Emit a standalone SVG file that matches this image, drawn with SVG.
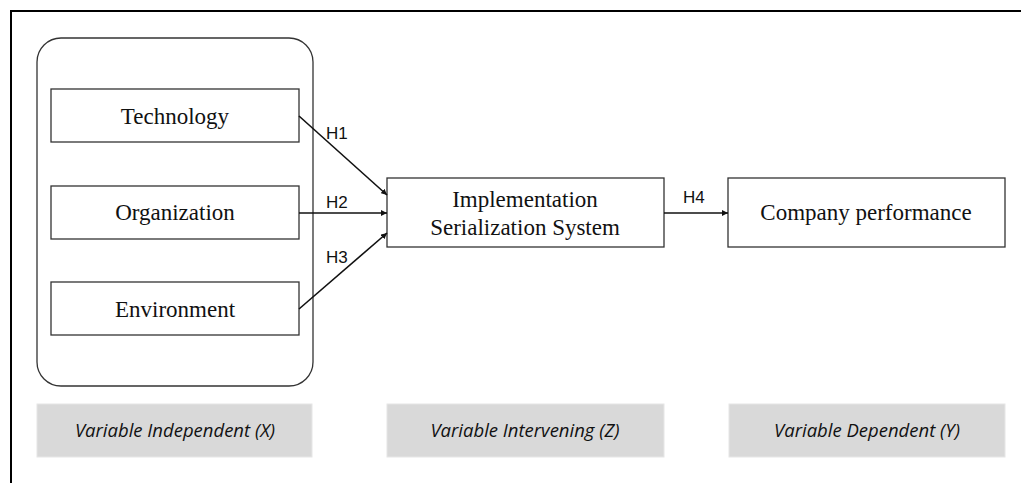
<svg xmlns="http://www.w3.org/2000/svg" width="1021" height="483" viewBox="0 0 1021 483">
<style>
.box{fill:#fff;stroke:#333;stroke-width:1.3}
.t{font-family:"Liberation Serif",serif;font-size:23px;fill:#111;text-anchor:middle}
.h{font-family:"Liberation Sans",sans-serif;font-size:17px;fill:#111}
.g{fill:#d9d9d9;stroke:#e6e6e6;stroke-width:1}
.gt{font-family:"Open Sans","Liberation Sans",sans-serif;font-style:italic;font-size:18.5px;fill:#111;text-anchor:middle}
.c{stroke:#111;stroke-width:1.6;fill:none;marker-end:url(#a)}
</style>
<defs>
<marker id="a" viewBox="0 0 10 10" refX="10" refY="5" markerWidth="6" markerHeight="6" markerUnits="userSpaceOnUse" orient="auto"><path d="M0,0 L10,5 L0,10 z" fill="#111"/></marker>
</defs>
<rect x="11" y="11" width="1030" height="500" fill="#fff" stroke="#000" stroke-width="2"/>
<rect id="groupX" x="37" y="38" width="276" height="348" rx="24" ry="24" fill="none" stroke="#333" stroke-width="1.3"/>
<g id="technology"><rect class="box" x="51" y="89" width="248" height="53"/><text class="t" x="175" y="124">Technology</text></g>
<g id="organization"><rect class="box" x="51" y="186" width="248" height="53"/><text class="t" x="175" y="220">Organization</text></g>
<g id="environment"><rect class="box" x="51" y="282" width="248" height="53"/><text class="t" x="175" y="317">Environment</text></g>
<g id="implementation"><rect class="box" x="387" y="178" width="277" height="69"/><text class="t" x="525" y="207">Implementation</text><text class="t" x="525" y="235">Serialization System</text></g>
<g id="company"><rect class="box" x="728" y="178" width="277" height="69"/><text class="t" x="866" y="220">Company performance</text></g>
<g id="connectors">
<path class="c" d="M299,116 L387,195"/>
<path class="c" d="M299,213 L387,213"/>
<path class="c" d="M299,309 L387,233"/>
<path class="c" d="M664,213 L728,213"/>
<text class="h" x="326" y="139">H1</text>
<text class="h" x="326" y="208">H2</text>
<text class="h" x="326" y="263">H3</text>
<text class="h" x="683" y="203">H4</text>
</g>
<g id="labelX"><rect class="g" x="37" y="404" width="275" height="53"/><text class="gt" x="175" y="437">Variable Independent (X)</text></g>
<g id="labelZ"><rect class="g" x="387" y="404" width="277" height="53"/><text class="gt" x="525" y="437">Variable Intervening (Z)</text></g>
<g id="labelY"><rect class="g" x="729" y="404" width="276" height="53"/><text class="gt" x="867" y="437">Variable Dependent (Y)</text></g>
</svg>
